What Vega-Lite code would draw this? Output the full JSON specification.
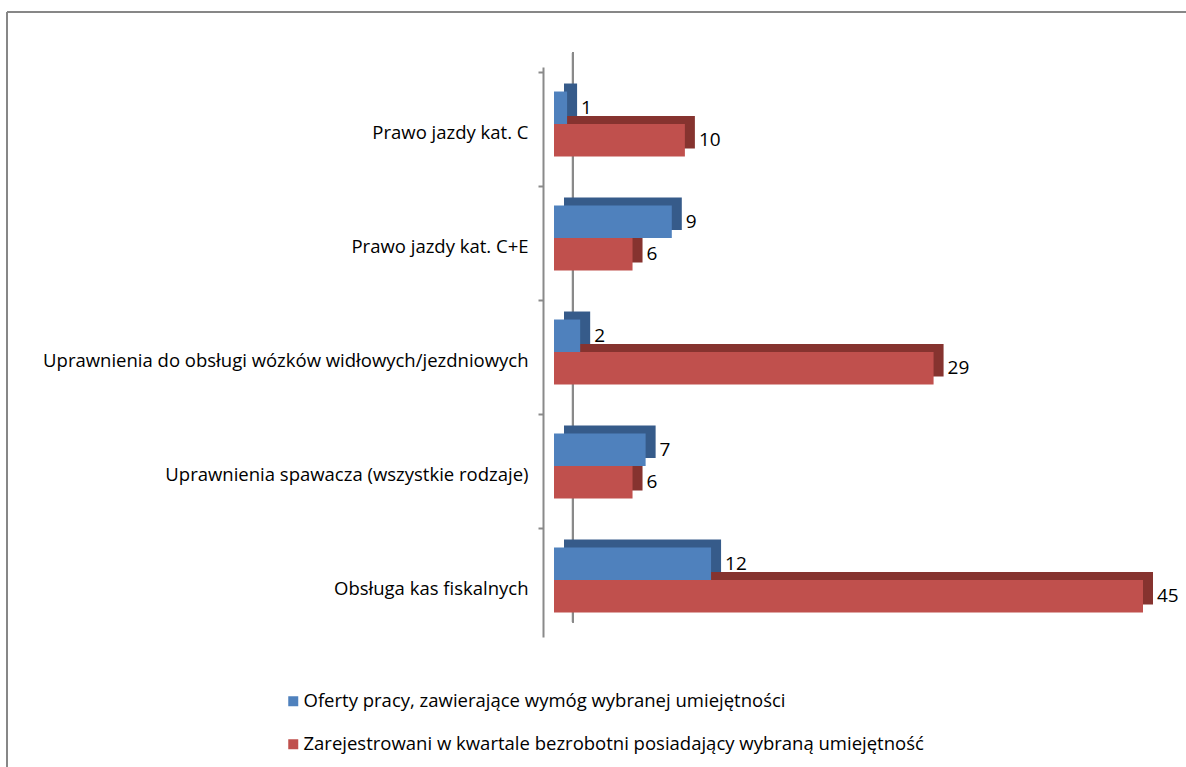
{
  "$schema": "https://vega.github.io/schema/vega-lite/v6.json",
  "autosize": {"type": "none"},
  "width": 1179,
  "height": 755,
  "padding": {"left": 7, "top": 12, "right": 0, "bottom": 0},
  "background": "white",
  "config": {"view": {"stroke": "#878787", "strokeWidth": 2, "strokeDash": [1179, 1934, 755, 0]}, "font": "Open Sans"},
  "data": {"values": [
    {"cat": "Prawo jazdy kat. C", "series": "Oferty pracy, zawierające wymóg wybranej umiejętności", "value": 1},
    {"cat": "Prawo jazdy kat. C", "series": "Zarejestrowani w kwartale bezrobotni posiadający wybraną umiejętność", "value": 10},
    {"cat": "Prawo jazdy kat. C+E", "series": "Oferty pracy, zawierające wymóg wybranej umiejętności", "value": 9},
    {"cat": "Prawo jazdy kat. C+E", "series": "Zarejestrowani w kwartale bezrobotni posiadający wybraną umiejętność", "value": 6},
    {"cat": "Uprawnienia do obsługi wózków widłowych/jezdniowych", "series": "Oferty pracy, zawierające wymóg wybranej umiejętności", "value": 2},
    {"cat": "Uprawnienia do obsługi wózków widłowych/jezdniowych", "series": "Zarejestrowani w kwartale bezrobotni posiadający wybraną umiejętność", "value": 29},
    {"cat": "Uprawnienia spawacza (wszystkie rodzaje)", "series": "Oferty pracy, zawierające wymóg wybranej umiejętności", "value": 7},
    {"cat": "Uprawnienia spawacza (wszystkie rodzaje)", "series": "Zarejestrowani w kwartale bezrobotni posiadający wybraną umiejętność", "value": 6},
    {"cat": "Obsługa kas fiskalnych", "series": "Oferty pracy, zawierające wymóg wybranej umiejętności", "value": 12},
    {"cat": "Obsługa kas fiskalnych", "series": "Zarejestrowani w kwartale bezrobotni posiadający wybraną umiejętność", "value": 45}
  ]},
  "encoding": {
    "y": {
      "field": "cat", "type": "nominal", "sort": null,
      "scale": {
        "domain": ["Prawo jazdy kat. C", "Prawo jazdy kat. C+E", "Uprawnienia do obsługi wózków widłowych/jezdniowych", "Uprawnienia spawacza (wszystkie rodzaje)", "Obsługa kas fiskalnych"],
        "paddingInner": 0.43, "paddingOuter": 0.215, "range": [55, 625]
      },
      "axis": {
        "title": null, "labelFontSize": 18.5, "labelColor": "#000000", "labelLimit": 600,
        "domainColor": "#8a8a8a", "domainWidth": 2, "offset": -536,
        "tickColor": "#8a8a8a", "tickWidth": 2, "tickSize": 5,
        "labelPadding": 10, "tickOffset": -52, "labelOffset": 60
      }
    }
  },
  "layer": [
    {
      "mark": {"type": "rule", "color": "#8a8a8a", "strokeWidth": 2},
      "encoding": {
        "x": {"datum": 1.45, "type": "quantitative", "scale": {"domain": [0, 45], "nice": false, "range": [547, 1136]}, "axis": null},
        "y": {"datum": "Prawo jazdy kat. C", "bandPosition": -0.6},
        "y2": {"datum": "Obsługa kas fiskalnych", "bandPosition": 1.15}
      }
    },
    {
      "mark": {"type": "bar"},
      "encoding": {
        "x": {"field": "value", "type": "quantitative", "scale": {"domain": [0, 45], "nice": false, "range": [557, 1146]}, "axis": null},
        "yOffset": {"field": "series", "type": "nominal", "scale": {"paddingInner": 0, "range": [-8, 57]}},
        "color": {"field": "series", "type": "nominal", "scale": {"range": ["#365b8a", "#86332f"]}, "legend": null}
      }
    },
    {
      "mark": {"type": "bar"},
      "encoding": {
        "x": {"field": "value", "type": "quantitative", "scale": {"domain": [0, 45], "nice": false, "range": [547, 1136]}, "axis": null},
        "yOffset": {"field": "series", "type": "nominal", "scale": {"paddingInner": 0, "range": [0, 65]}},
        "fill": {"field": "series", "type": "nominal", "scale": {"range": ["#4f81bd", "#c0504d"]},
          "legend": {"title": null, "orient": "none", "legendX": 277, "legendY": 680, "symbolType": "square", "symbolSize": 100, "symbolStrokeWidth": 0, "labelFontSize": 18.5, "labelColor": "#000000", "labelLimit": 900, "rowPadding": 24, "labelOffset": 1, "direction": "vertical"}}
      }
    },
    {
      "mark": {"type": "text", "align": "left", "dx": 14, "fontSize": 19, "color": "#000000", "baseline": "middle"},
      "encoding": {
        "x": {"field": "value", "type": "quantitative", "scale": {"domain": [0, 45], "nice": false, "range": [547, 1136]}, "axis": null},
        "yOffset": {"field": "series", "type": "nominal", "scale": {"paddingInner": 0, "range": [0, 65]}},
        "text": {"field": "value", "type": "quantitative"}
      }
    }
  ],
  "resolve": {"scale": {"color": "independent", "yOffset": "independent", "x": "independent"}}
}
